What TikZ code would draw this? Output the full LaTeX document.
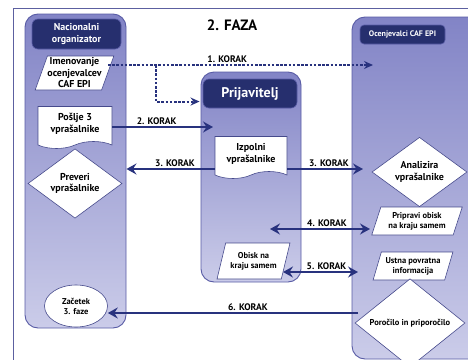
\documentclass[tikz,border=0pt]{standalone}
\usepackage{fontspec}
\setmainfont{PT Sans}
\usetikzlibrary{arrows.meta,shapes,positioning,calc}
\definecolor{navyhead}{RGB}{38,47,110}
\definecolor{navyline}{RGB}{40,50,126}
\definecolor{coltop}{RGB}{130,132,198}
\definecolor{colbot}{RGB}{203,204,233}
\definecolor{colrim}{RGB}{88,91,165}
\definecolor{boxrim}{RGB}{70,74,140}
\definecolor{framerim}{RGB}{92,96,160}
\newcommand{\boxfont}{\bfseries\fontsize{10}{11.5}\selectfont}
\newcommand{\smallboxfont}{\bfseries\fontsize{8.5}{10}\selectfont}
\newcommand{\korakfont}{\bfseries\fontsize{9.5}{10}\selectfont}
\tikzset{
  column/.style={draw=colrim, line width=0.9pt, rounded corners=13pt, top color=coltop, bottom color=colbot, inner sep=0pt},
  header/.style={fill=navyhead, draw=colrim, line width=0.6pt, rounded corners=6pt, text=white, align=center, inner sep=1pt},
  doc/.style={tape, tape bend top=none, tape bend height=7pt, draw=boxrim, fill=white, line width=0.6pt, align=center, font=\boxfont, inner sep=1pt},
  para/.style={trapezium, trapezium left angle=68, trapezium right angle=112, trapezium stretches=true, draw=boxrim, fill=white, line width=0.6pt, align=center, font=\boxfont, inner sep=0pt},
  decision/.style={diamond, draw=boxrim, fill=white, line width=0.6pt, align=center, font=\boxfont, inner sep=0pt},
  korak/.style={font=\korakfont, text=black, inner sep=1.5pt},
  flow/.style={navyline, line width=2.4pt, >={Stealth[length=10pt,width=11pt,inset=3.5pt]}},
  dashflow/.style={navyline, line width=2pt, dash pattern=on 2.6pt off 1.6pt, >={Stealth[length=9pt,width=8pt,inset=3pt,open,line width=1.4pt]}}
}
\begin{document}
\begin{tikzpicture}[x=1pt,y=-1pt]
  \clip (0,0) rectangle (468,359);
  \draw[framerim, line width=0.8pt] (13,8) rectangle (490,380);

  % columns
  \draw node[column, minimum width=101, minimum height=314] (nacCol) at (75.5,171) {};
  \draw node[column, minimum width=100, minimum height=210] (priCol) at (251,177) {};
  \draw node[column, minimum width=132, minimum height=342] (ocenCol) at (418,188) {};

  \draw node[header, minimum width=89, minimum height=30, font=\bfseries\fontsize{10}{12}\selectfont] (nacHead) at (76.5,34) {Nacionalni\\organizator};
  \draw node[header, minimum width=94, minimum height=29, font=\bfseries\fontsize{14}{15}\selectfont] (priHead) at (250,93.5) {Prijavitelj};
  \draw node[header, minimum width=85, minimum height=19, rounded corners=4pt, font=\bfseries\fontsize{8}{9}\selectfont] (ocenHead) at (402.5,34.5) {Ocenjevalci CAF EPI};

  \draw node[font=\bfseries\fontsize{15}{17}\selectfont] (title) at (232,25) {2. FAZA};

  % nacionalni organizator
  \draw node[para, minimum width=77, minimum height=34] (imen) at (74.5,73) {Imenovanje\\ocenjevalcev\\CAF EPI};
  \draw node[doc, minimum width=74, minimum height=42] (poslje) at (75,124) {Pošlje 3\\vprašalnike};
  \draw node[decision, minimum width=94, minimum height=57] (preveri) at (75,183.5) {Preveri\\vprašalnike};
  \draw node[ellipse, draw=boxrim, fill=white, line width=0.6pt, align=center, inner sep=0pt, font=\smallboxfont, minimum width=63, minimum height=42] (zacetek) at (76,306) {Začetek\\3. faze};

  % prijavitelj
  \draw node[doc, minimum width=72, minimum height=42] (izpolni) at (251,154) {Izpolni\\vprašalnike};
  \draw node[para, minimum width=73, minimum height=36, font=\smallboxfont] (obisk) at (253.5,261) {Obisk na\\kraju samem};

  % ocenjevalci
  \draw node[decision, minimum width=95, minimum height=46] (analizira) at (419.5,172) {Analizira\\vprašalnike};
  \draw node[para, minimum width=91, minimum height=28, font=\smallboxfont] (pripravi) at (417,221) {Pripravi obisk\\na kraju samem};
  \draw node[para, minimum width=80, minimum height=28, font=\smallboxfont] (ustna) at (413,266) {Ustna povratna\\informacija};
  \draw node[decision, minimum width=110, minimum height=72, font=\smallboxfont] (porocilo) at (410,323) {Poročilo in priporočilo};

  \coordinate (k1split) at (156,65);
  \coordinate (k1end) at (373,65);
  \coordinate (k2end) at (213,127);
  \coordinate (k3end) at (363,169);
  \coordinate (k4a) at (270,229);
  \coordinate (k4b) at (370,229);
  \coordinate (k5a) at (283,272);
  \coordinate (k5b) at (358,272);
  \coordinate (k6start) at (358,313);

  % koraki
  \draw[dashflow, ->] (imen.east |- k1end) -- node[korak, above, pos=0.45] (l1) {1. KORAK} (k1end);
  \draw[dashflow, ->] (k1split) |- ($(priCol.north west)+(-1,30)$);
  \draw[flow, ->] (poslje.east |- k2end) -- node[korak, above, pos=0.44] (l2) {2. KORAK} (k2end);
  \draw[flow, ->] (izpolni.west |- k3end) -- node[korak, above, pos=0.45] (l3a) {3. KORAK} (nacCol.east |- k3end);
  \draw[flow, ->] (izpolni.east |- k3end) -- node[korak, above, pos=0.55] (l3b) {3. KORAK} (k3end);
  \draw[flow, <->] (k4a) -- node[korak, above, pos=0.57] (l4) {4. KORAK} (k4b);
  \draw[flow, <->] (k5a) -- node[korak, above, pos=0.58] (l5) {5. KORAK} (k5b);
  \draw[flow, ->] (k6start) -- node[korak, above, pos=0.44] (l6) {6. KORAK} (zacetek.east |- k6start);
\end{tikzpicture}
\end{document}
